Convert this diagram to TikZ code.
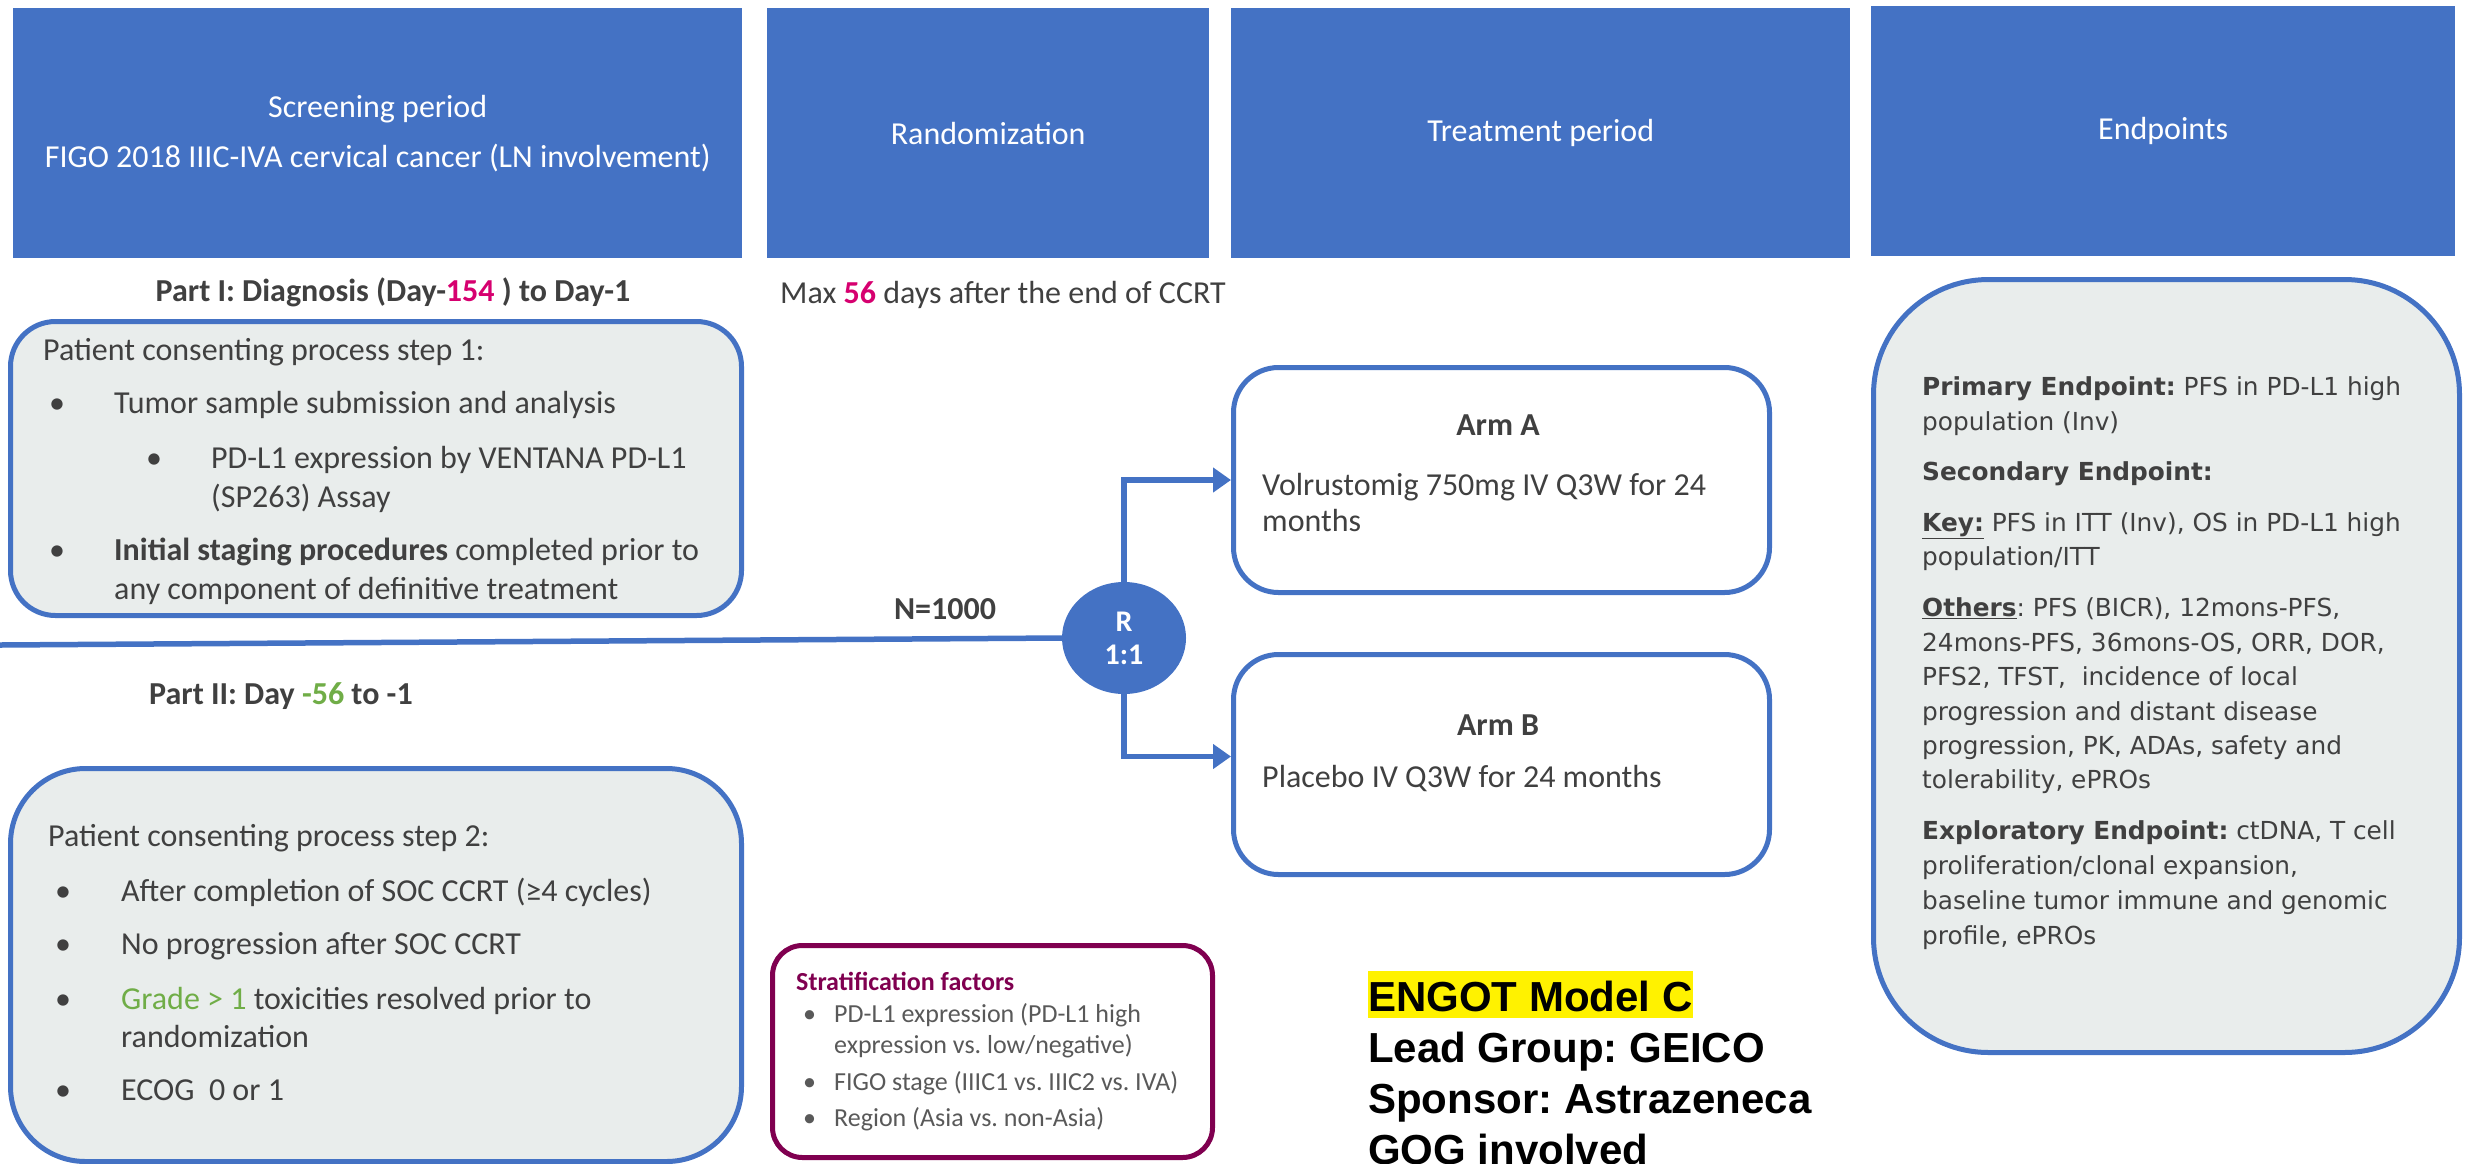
\documentclass[tikz,border=0pt]{standalone}
\usepackage{fontspec}
\setmainfont{Carlito}
\newfontfamily\verd{DejaVu Sans}
\newfontfamily\arialf{Liberation Sans}
\usetikzlibrary{arrows.meta,calc,shapes.geometric}
\definecolor{hblue}{RGB}{68,114,196}
\definecolor{boxgray}{RGB}{233,237,236}
\definecolor{txt}{RGB}{64,64,64}
\definecolor{pinkc}{RGB}{214,0,111}
\definecolor{greenc}{RGB}{112,173,71}
\definecolor{maroonc}{RGB}{128,0,80}
\definecolor{stxt}{RGB}{89,89,89}
\frenchspacing
\begin{document}
\frenchspacing
\begin{tikzpicture}[x=1pt,y=-1pt,
  hdr/.style={fill=hblue,draw=none,text=white,font=\fontsize{32}{50}\selectfont,align=center,inner sep=0,anchor=north west},
  rbox/.style={draw=hblue,line width=5pt,fill=boxgray,rectangle,rounded corners=#1,inner sep=0,anchor=north west},
  wbox/.style={draw=hblue,line width=5pt,fill=white,rectangle,rounded corners=#1,inner sep=0,anchor=north west},
  bodytxt/.style={text=txt,font=\fontsize{32}{38}\selectfont,inner sep=0,anchor=base west},
  ctrtxt/.style={text=txt,font=\fontsize{32}{38}\selectfont\bfseries,inner sep=0,anchor=base},
  eptxt/.style={text=txt,font=\verd\fontsize{24.8}{34}\selectfont,inner sep=0,anchor=base west},
  strtxt/.style={text=stxt,font=\fontsize{26}{31}\selectfont,inner sep=0,anchor=base west},
  bigtxt/.style={text=black,font=\arialf\bfseries\fontsize{42}{50}\selectfont,inner sep=0,anchor=base west},
  conn/.style={draw=hblue,line width=5.5pt},
  arr/.style={conn,-{Triangle[length=18pt,width=24pt]}}
]
\useasboundingbox (0,0) rectangle (2465,1163);

% header boxes
\node[hdr,minimum width=729,minimum height=250] (h1) at (13,8) {Screening period\\FIGO 2018 IIIC-IVA cervical cancer (LN involvement)};
\node[hdr,minimum width=442,minimum height=250] (h2) at (767,8) {Randomization};
\node[hdr,minimum width=619,minimum height=250] (h3) at (1231,8) {Treatment period};
\node[hdr,minimum width=584,minimum height=250] (h4) at (1871,6) {Endpoints};

% Part I
\node[ctrtxt] (p1) at (393,301) {Part I: Diagnosis (Day-\textcolor{pinkc}{154} ) to Day-1};
\node[rbox=45pt,minimum width=731,minimum height=294] (s1) at (8,319) {};
\node[bodytxt] (s1a) at (43,360) {Patient consenting process step 1:};
\node[bodytxt] (s1b) at (49,413) {\textbullet};
\node[bodytxt] (s1c) at (114,413) {Tumor sample submission and analysis};
\node[bodytxt] (s1d) at (146,468) {\textbullet};
\node[bodytxt] (s1e) at (211,468) {PD-L1 expression by VENTANA PD-L1};
\node[bodytxt] (s1f) at (211,507) {(SP263) Assay};
\node[bodytxt] (s1g) at (49,560) {\textbullet};
\node[bodytxt] (s1h) at (114,560) {\textbf{Initial staging procedures} completed prior to};
\node[bodytxt] (s1i) at (114,599) {any component of definitive treatment};

% Part II
\node[bodytxt,font=\fontsize{32}{38}\selectfont\bfseries] (p2) at (149,704) {Part II: Day \textcolor{greenc}{-56} to -1};
\node[rbox=75pt,minimum width=731,minimum height=393] (s2) at (8,766) {};
\node[bodytxt] (s2a) at (48,846) {Patient consenting process step 2:};
\node[bodytxt] (s2b) at (55,901) {\textbullet};
\node[bodytxt] (s2c) at (121,901) {After completion of SOC CCRT (≥4 cycles)};
\node[bodytxt] (s2d) at (55,954) {\textbullet};
\node[bodytxt] (s2e) at (121,954) {No progression after SOC CCRT};
\node[bodytxt] (s2f) at (55,1009) {\textbullet};
\node[bodytxt] (s2g) at (121,1009) {\textcolor{greenc}{Grade > 1} toxicities resolved prior to};
\node[bodytxt] (s2h) at (121,1047) {randomization};
\node[bodytxt] (s2i) at (55,1100) {\textbullet};
\node[bodytxt] (s2j) at (121,1100) {ECOG\ \ 0 or 1};

% randomization
\node[bodytxt] (mx) at (780,303) {Max \textbf{\textcolor{pinkc}{56}} days after the end of CCRT};
\node[ellipse,fill=hblue,draw=none,minimum width=124,minimum height=112,inner sep=0,text=white,
      font=\fontsize{30}{33}\selectfont\bfseries,align=center] (R) at (1124,638) {R\\1:1};
\node[ctrtxt] (N) at (945,619) {N=1000};
\coordinate (lin) at (0,645);

% arms
\node[wbox=45pt,minimum width=536,minimum height=225] (armA) at (1231,365) {};
\node[ctrtxt] (aA) at (1498,435) {Arm A};
\node[bodytxt] (aA1) at (1262,495) {Volrustomig 750mg IV Q3W for 24};
\node[bodytxt] (aA2) at (1262,531) {months};
\node[wbox=45pt,minimum width=536,minimum height=220] (armB) at (1231,652) {};
\node[ctrtxt] (aB) at (1498,735) {Arm B};
\node[bodytxt] (aB1) at (1262,787) {Placebo IV Q3W for 24 months};

\draw[conn] (lin) -- (R.west);
\draw[arr] (R.north) |- (armA.west);
\draw[arr] (R.south) |- ($(armB.west)+(0,-8)$);

% stratification
\node[draw=maroonc,line width=5pt,fill=white,rectangle,rounded corners=30pt,inner sep=0,anchor=north west,
      minimum width=440,minimum height=212] (st) at (770,943) {};
\node[strtxt,text=maroonc,font=\fontsize{26}{31}\selectfont\bfseries] (st0) at (796,990) {Stratification factors};
\node[strtxt] (st1) at (803,1022) {\textbullet};
\node[strtxt] (st2) at (834,1022) {PD-L1 expression (PD-L1 high};
\node[strtxt] (st3) at (834,1053) {expression vs. low/negative)};
\node[strtxt] (st4) at (803,1090) {\textbullet};
\node[strtxt] (st5) at (834,1090) {FIGO stage (IIIC1 vs. IIIC2 vs. IVA)};
\node[strtxt] (st6) at (803,1126) {\textbullet};
\node[strtxt] (st7) at (834,1126) {Region (Asia vs. non-Asia)};

% ENGOT
\node[bigtxt,fill=yellow,text height=40,text depth=7] (en1) at (1368,1011) {ENGOT Model C};
\node[bigtxt] (en2) at (1368,1062) {Lead Group: GEICO};
\node[bigtxt] (en3) at (1368,1113) {Sponsor: Astrazeneca};
\node[bigtxt] (en4) at (1368,1164) {GOG involved};

% endpoints
\node[rbox=115pt,minimum width=586,minimum height=773] (ep) at (1871,277) {};
\node[eptxt] (e1) at (1922,395) {\textbf{Primary Endpoint:} PFS in PD-L1 high};
\node[eptxt] (e2) at (1922,430) {population (Inv)};
\node[eptxt] (e3) at (1922,480) {\textbf{Secondary Endpoint:}};
\node[eptxt] (e4) at (1922,531) {\textbf{\underline{Key:}} PFS in ITT (Inv), OS in PD-L1 high};
\node[eptxt] (e5) at (1922,565) {population/ITT};
\node[eptxt] (e6) at (1922,616) {\textbf{\underline{Others}}: PFS (BICR), 12mons-PFS,};
\node[eptxt] (e7) at (1922,651) {24mons-PFS, 36mons-OS, ORR, DOR,};
\node[eptxt] (e8) at (1922,685) {PFS2, TFST,\ \ incidence of local};
\node[eptxt] (e9) at (1922,720) {progression and distant disease};
\node[eptxt] (e10) at (1922,754) {progression, PK, ADAs, safety and};
\node[eptxt] (e11) at (1922,788) {tolerability, ePROs};
\node[eptxt] (e12) at (1922,839) {\textbf{Exploratory Endpoint:} ctDNA, T cell};
\node[eptxt] (e13) at (1922,874) {proliferation/clonal expansion,};
\node[eptxt] (e14) at (1922,909) {baseline tumor immune and genomic};
\node[eptxt] (e15) at (1922,944) {profile, ePROs};
\end{tikzpicture}
\end{document}
